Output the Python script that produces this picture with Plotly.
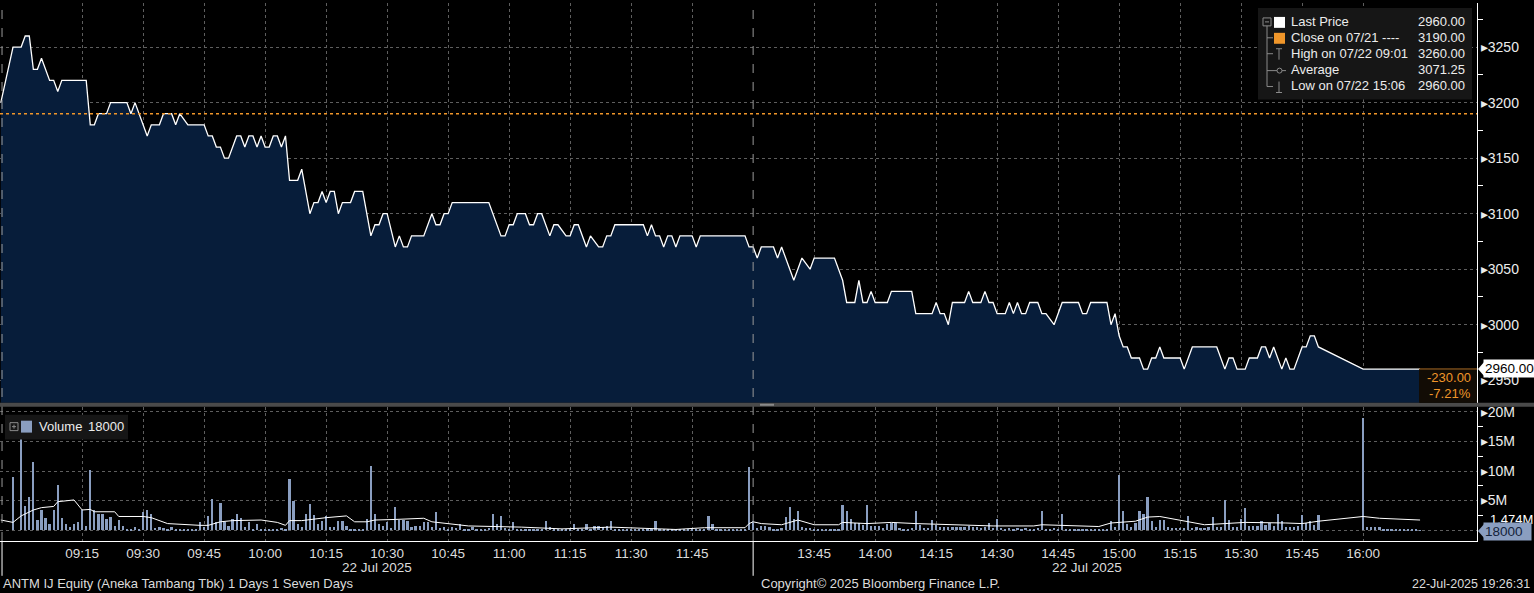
import plotly.graph_objects as go

# ---------------- data ----------------
price_times = [
    "08:55", "08:58", "09:00", "09:01", "09:02", "09:03", "09:04", "09:05", "09:07", "09:08",
    "09:09", "09:10", "09:16", "09:17", "09:18", "09:19", "09:21", "09:22", "09:26", "09:27",
    "09:28", "09:31", "09:32", "09:34", "09:35", "09:37", "09:38", "09:39", "09:41", "09:45",
    "09:46", "09:47", "09:48", "09:49", "09:50", "09:51", "09:53", "09:54", "09:55", "09:56",
    "09:57", "09:58", "09:59", "10:00", "10:01", "10:02", "10:03", "10:04", "10:05", "10:06",
    "10:08", "10:09", "10:11", "10:12", "10:13", "10:14", "10:15", "10:16", "10:17", "10:18",
    "10:19", "10:21", "10:22", "10:24", "10:26", "10:27", "10:28", "10:29", "10:30", "10:32",
    "10:33", "10:34", "10:35", "10:36", "10:39", "10:41", "10:42", "10:43", "10:44", "10:45",
    "10:46", "10:55", "10:58", "10:59", "11:00", "11:01", "11:02", "11:04", "11:05", "11:06",
    "11:07", "11:08", "11:10", "11:11", "11:12", "11:14", "11:15", "11:16", "11:17", "11:19",
    "11:20", "11:22", "11:23", "11:24", "11:25", "11:26", "11:33", "11:34", "11:35", "11:36",
    "11:37", "11:38", "11:39", "11:40", "11:41", "11:42", "11:45", "11:46", "11:47", "11:58",
    "11:59", "12:00",
    "13:31", "13:32", "13:35", "13:36", "13:37", "13:40", "13:42", "13:44", "13:45", "13:50",
    "13:52", "13:53", "13:55", "13:56", "13:57", "13:58", "13:59", "14:00", "14:03", "14:04",
    "14:09", "14:10", "14:14", "14:15", "14:16", "14:17", "14:18", "14:19", "14:22", "14:23",
    "14:24", "14:26", "14:27", "14:28", "14:29", "14:30", "14:32", "14:33", "14:34", "14:35",
    "14:36", "14:37", "14:38", "14:40", "14:41", "14:42", "14:44", "14:46", "14:50", "14:51",
    "14:52", "14:53", "14:57", "14:58", "14:59", "15:00", "15:01", "15:02", "15:03", "15:05",
    "15:06", "15:07", "15:08", "15:09", "15:10", "15:11", "15:15", "15:16", "15:18", "15:24",
    "15:26", "15:27", "15:28", "15:29", "15:31", "15:32", "15:34", "15:35", "15:36", "15:37",
    "15:38", "15:40", "15:41", "15:42", "15:43", "15:45", "15:46", "15:47", "15:48", "15:49",
    "16:00", "16:14",
]
price_values = [
    3200, 3250, 3250, 3260, 3260, 3230, 3230, 3240, 3220, 3220,
    3210, 3220, 3220, 3180, 3180, 3190, 3190, 3200, 3200, 3190,
    3200, 3170, 3180, 3180, 3190, 3190, 3180, 3190, 3180, 3180,
    3170, 3170, 3160, 3160, 3150, 3150, 3170, 3170, 3160, 3170,
    3170, 3160, 3170, 3160, 3160, 3170, 3170, 3160, 3170, 3130,
    3130, 3140, 3100, 3110, 3110, 3120, 3110, 3120, 3120, 3100,
    3110, 3110, 3120, 3120, 3080, 3090, 3090, 3100, 3100, 3070,
    3080, 3070, 3070, 3080, 3080, 3100, 3090, 3090, 3100, 3100,
    3110, 3110, 3080, 3080, 3090, 3090, 3100, 3100, 3090, 3090,
    3100, 3100, 3080, 3090, 3090, 3080, 3080, 3090, 3090, 3070,
    3080, 3070, 3070, 3080, 3080, 3090, 3090, 3080, 3090, 3080,
    3080, 3070, 3080, 3080, 3070, 3080, 3080, 3070, 3080, 3080,
    3070, 3070,
    3060, 3070, 3070, 3060, 3070, 3040, 3060, 3050, 3060, 3060,
    3040, 3020, 3020, 3040, 3020, 3020, 3030, 3020, 3020, 3030,
    3030, 3010, 3010, 3020, 3010, 3010, 3000, 3020, 3020, 3030,
    3020, 3020, 3030, 3020, 3020, 3010, 3010, 3020, 3010, 3020,
    3010, 3010, 3020, 3020, 3010, 3010, 3000, 3020, 3020, 3010,
    3010, 3020, 3020, 3000, 3010, 2990, 2980, 2980, 2970, 2970,
    2960, 2960, 2970, 2970, 2980, 2970, 2970, 2960, 2980, 2980,
    2960, 2970, 2970, 2960, 2960, 2970, 2970, 2980, 2980, 2970,
    2980, 2960, 2970, 2960, 2960, 2980, 2980, 2990, 2990, 2980,
    2960, 2960,
]

# volume in millions of shares, one value per minute
vol_morning_start = "08:58"
vol_morning = [
    9.0, 0.0,
    16.0, 4.2, 5.7, 11.6, 1.8, 3.4, 2.1, 1.1, 3.4, 7.7, 2.1, 1.1, 0.6, 1.0, 1.4,
    3.4, 0.7, 10.2, 3.5, 2.8, 2.8, 2.0, 2.2, 0.7, 1.8, 0.8, 0.3, 0.3, 0.6, 0.3,
    3.1, 3.4, 2.7, 0.4, 0.5, 0.4, 0.3, 0.5, 0.3, 0.3, 0.2, 0.3, 0.2, 0.3, 1.4,
    0.5, 2.4, 5.3, 1.4, 4.6, 1.4, 0.8, 2.0, 2.7, 2.1, 0.5, 1.4, 0.3, 1.0, 0.3,
    0.3, 0.2, 0.3, 0.3, 0.4, 0.3, 8.7, 5.0, 1.0, 0.5, 2.8, 4.5, 2.6, 1.0, 1.6,
    2.4, 0.6, 0.6, 1.5, 1.5, 0.7, 0.3, 0.3, 0.3, 0.2, 2.0, 10.9, 2.8, 1.1, 0.7,
    1.4, 0.4, 4.0, 1.8, 1.8, 1.6, 0.6, 0.7, 0.8, 1.4, 1.4, 0.6, 3.1, 0.4, 0.6,
    0.3, 0.5, 0.4, 1.0, 0.3, 0.3, 0.5, 0.3, 0.3, 0.3, 0.4, 2.7, 1.1, 2.4, 0.4,
    0.3, 1.4, 0.3, 0.2, 0.3, 0.2, 0.3, 0.2, 0.3, 1.5, 0.6, 0.2, 0.1, 0.2, 0.2,
    0.2, 1.0, 0.3, 0.2, 1.0, 0.3, 0.7, 0.7, 0.5, 0.7, 1.6, 0.3, 0.2, 0.2, 0.3,
    0.2, 0.2, 0.1, 0.2, 0.3, 0.2, 1.6, 0.2, 0.2, 0.1, 0.2, 0.1, 0.1, 0.2, 0.2,
    0.2, 0.2, 0.3, 0.3, 2.4, 1.0, 0.2, 0.2, 0.2, 0.2, 0.2, 0.2, 0.2, 0.3, 10.8,
]
vol_afternoon_start = "13:30"
vol_afternoon = [
    1.5, 0.4, 0.8, 0.8, 0.6, 0.3, 0.3, 0.4, 2.2, 4.0, 2.0, 3.3, 0.5, 0.4, 0.4,
    0.3, 0.3, 0.2, 0.3, 0.3, 0.3, 0.3, 4.3, 3.3, 2.0, 1.3, 1.2, 0.9, 4.3, 0.8,
    0.8, 0.8, 0.4, 1.1, 1.2, 1.3, 0.4, 0.3, 0.3, 0.4, 3.3, 0.9, 0.4, 0.4, 1.8,
    0.9, 0.6, 0.6, 0.5, 0.6, 0.6, 0.5, 0.6, 0.8, 0.5, 0.5, 0.4, 0.5, 1.3, 0.4,
    2.0, 0.4, 0.3, 0.4, 0.3, 0.4, 0.3, 0.4, 0.3, 0.3, 0.4, 3.3, 0.3, 0.3, 0.4,
    0.3, 2.8, 0.3, 0.3, 0.2, 0.3, 0.3, 0.2, 0.3, 0.3, 0.2, 0.3, 0.3, 1.5, 0.5,
    9.4, 3.3, 1.1, 0.5, 1.3, 3.3, 2.8, 5.6, 1.5, 0.6, 1.7, 1.7, 0.6, 0.4, 0.4,
    0.4, 0.4, 2.4, 0.4, 0.5, 0.4, 0.4, 0.5, 2.2, 0.6, 0.5, 5.2, 1.7, 0.6, 0.5,
    2.0, 3.8, 0.8, 0.8, 0.8, 1.6, 0.9, 1.2, 0.7, 2.8, 1.5, 0.6, 0.6, 0.6, 0.7,
    2.6, 1.2, 1.6, 0.9, 2.6, 0.0, 0.0, 0.0, 0.0, 0.0, 0.0, 0.0, 0.0, 0.0, 0.0,
    19.0, 0.6, 0.6, 0.6, 0.5, 0.3, 0.2, 0.2, 0.2, 0.1, 0.1, 0.1, 0.1, 0.1, 0.018,
]

vol_avg_times = [
    "08:55", "08:58", "09:00", "09:01", "09:03", "09:05", "09:08", "09:09", "09:12", "09:13",
    "09:15", "09:17", "09:18", "09:23", "09:24", "09:30", "09:32", "09:36", "09:44", "09:46",
    "09:49", "09:52", "09:59", "10:03", "10:05", "10:06", "10:09", "10:11", "10:15", "10:20",
    "10:22", "10:25", "10:27", "10:32", "10:39", "10:41", "10:45", "10:50", "11:03", "11:13",
    "11:25", "11:33", "11:38", "11:41", "11:48", "11:58", "11:59", "12:00",
    "13:32", "13:37", "13:41", "13:45", "13:51", "13:52", "13:58", "14:04", "14:10", "14:23",
    "14:29", "14:39", "14:41", "14:55", "14:58", "15:04", "15:07", "15:10", "15:15", "15:21",
    "15:26", "15:31", "15:41", "15:45", "15:49", "16:00", "16:04", "16:14",
]
vol_avg_values = [
    1.7, 1.3, 2.4, 2.7, 3.4, 3.8, 4.0, 4.8, 5.0, 5.1,
    3.4, 3.5, 3.1, 3.1, 2.3, 2.3, 2.1, 1.1, 0.8, 0.8,
    1.4, 1.6, 1.7, 1.3, 0.8, 1.6, 1.6, 1.8, 2.1, 2.4,
    1.4, 1.4, 1.7, 1.8, 2.0, 1.4, 1.1, 0.7, 0.5, 0.2,
    0.5, 0.3, 0.3, 0.1, 0.4, 0.4, 1.1, 1.4,
    1.1, 0.9, 1.7, 0.9, 0.9, 1.3, 1.1, 1.3, 1.1, 0.9,
    0.7, 0.7, 0.9, 0.6, 1.2, 1.5, 2.2, 2.3, 1.7, 0.9,
    1.1, 1.3, 1.2, 1.1, 1.5, 2.3, 2.0, 1.7,
]

prev_close = 3190
price_ticks = [2950, 3000, 3050, 3100, 3150, 3200, 3250]
price_minor = [2975, 3025, 3075, 3125, 3175, 3225, 3275]
vol_ticks = [5, 10, 15, 20]
vol_tick_text = ["5M", "10M", "15M", "20M"]
vol_minor = [2.5, 7.5, 12.5, 17.5]
time_ticks = ["09:15", "09:30", "09:45", "10:00", "10:15", "10:30", "10:45", "11:00",
              "11:15", "11:30", "11:45", "13:45", "14:00", "14:15", "14:30", "14:45",
              "15:00", "15:15", "15:30", "15:45", "16:00"]

legend_rows = [
    ("Last Price", "2960.00"),
    ("Close on 07/21 ----", "3190.00"),
    ("High on 07/22 09:01", "3260.00"),
    ("Average", "3071.25"),
    ("Low on 07/22 15:06", "2960.00"),
]


# -------------- helpers --------------
def smin(t):
    """trading-session minutes since 09:00, lunch break removed"""
    h, m = map(int, t.split(":"))
    mins = h * 60 + m
    if mins >= 13 * 60 + 30:
        return mins - (13 * 60 + 30) + 180
    return mins - 9 * 60


def minute_series(start, n):
    s0 = smin(start)
    return [s0 + i for i in range(n)]


W, H = 1534, 593
PR, PB = 1477, 541  # plot right / bottom in pixels


def px(xp):
    return xp / PR


def py(yp):
    return (PB - yp) / PB


FONT = "Liberation Sans, Arial, sans-serif"
TXT = "#ececec"
GRID = "#5e5e5e"
FILL = "#071d3a"
ORANGE = "#f0962a"
VOLC = "#8a9ec0"

xs_price = [smin(t) for t in price_times]
xs_vol = minute_series(vol_morning_start, len(vol_morning)) + \
    minute_series(vol_afternoon_start, len(vol_afternoon))
ys_vol = vol_morning + vol_afternoon
xs_avg = [smin(t) for t in vol_avg_times]

fig = go.Figure()
fig.add_trace(go.Scatter(
    x=xs_price, y=price_values, mode="lines", fill="tozeroy",
    fillcolor=FILL, line=dict(color="#ffffff", width=1.3),
    xaxis="x", yaxis="y", hoverinfo="skip", showlegend=False))
fig.add_trace(go.Bar(
    x=xs_vol, y=ys_vol, width=0.55, marker=dict(color=VOLC, line=dict(width=0)),
    xaxis="x2", yaxis="y2", hoverinfo="skip", showlegend=False))
fig.add_trace(go.Scatter(
    x=xs_avg, y=vol_avg_values, mode="lines", line=dict(color="#ffffff", width=1),
    xaxis="x2", yaxis="y2", hoverinfo="skip", showlegend=False))

xr = [-5.2, 358.0]
tickvals = [smin(t) for t in time_ticks]

fig.update_layout(
    width=W, height=H,
    margin=dict(l=0, r=W - PR, t=0, b=H - PB),
    paper_bgcolor="#000000", plot_bgcolor="#000000",
    font=dict(family=FONT, color=TXT, size=13),
    showlegend=False, bargap=0,
    xaxis=dict(domain=[0, 1], anchor="y", range=xr, tickmode="array", tickvals=tickvals,
               showticklabels=False, showgrid=True, gridcolor=GRID, griddash="dot",
               gridwidth=1, zeroline=False, showline=False, ticks=""),
    xaxis2=dict(domain=[0, 1], anchor="y2", range=xr, matches="x", tickmode="array",
                tickvals=tickvals, ticktext=time_ticks, showgrid=True, gridcolor=GRID,
                griddash="dot", zeroline=False, showline=True, linecolor="#ffffff",
                linewidth=1, ticks="", tickfont=dict(family=FONT, size=13.5, color="#dcdcdc")),
    yaxis=dict(domain=[py(402), 1], anchor="x", side="right", range=[2929.7, 3289.7],
               tickmode="array", tickvals=price_ticks,
               ticktext=["\u25b8" + str(v) for v in price_ticks],
               showgrid=True, gridcolor=GRID, griddash="dot", zeroline=False,
               showline=True, linecolor="#ffffff", linewidth=1, ticks="",
               tickfont=dict(family=FONT, size=14, color=TXT),
               minor=dict(tickmode="array", tickvals=price_minor, ticks="outside",
                          ticklen=5, tickcolor="#ffffff", showgrid=False)),
    yaxis2=dict(domain=[0, py(406)], anchor="x2", side="right", range=[-1.85, 20.88],
                tickmode="array", tickvals=[0] + vol_ticks,
                ticktext=[""] + ["\u25b8" + t for t in vol_tick_text],
                showgrid=True, gridcolor=GRID, griddash="dot", zeroline=False,
                showline=True, linecolor="#ffffff", linewidth=1, ticks="",
                tickfont=dict(family=FONT, size=14, color=TXT),
                minor=dict(tickmode="array", tickvals=vol_minor, ticks="outside",
                           ticklen=5, tickcolor="#ffffff", showgrid=False)),
)

shapes = []
# previous close line
shapes.append(dict(type="line", xref="x domain", yref="y", x0=0, x1=1, y0=prev_close,
                   y1=prev_close, line=dict(color=ORANGE, width=1.6, dash="dot")))
# session dividers
for s in [xs_price[0] + 0.3, smin("12:00")]:
    shapes.append(dict(type="line", xref="x", yref="paper", x0=s, x1=s, y0=0, y1=1,
                       line=dict(color="#9a9a9a", width=1, dash="dash")))
    shapes.append(dict(type="line", xref="x", yref="paper", x0=s, x1=s, y0=py(541),
                       y1=py(576), line=dict(color="#ffffff", width=1)))
# panel separator
shapes.append(dict(type="rect", xref="paper", yref="paper", x0=0, x1=W / PR,
                   y0=py(406), y1=py(402), fillcolor="#4a4a4a", line=dict(width=0)))
shapes.append(dict(type="rect", xref="paper", yref="paper", x0=px(760), x1=px(774),
                   y0=py(405), y1=py(403), fillcolor="#8a8a8a", line=dict(width=0)))
# change box
shapes.append(dict(type="rect", xref="paper", yref="paper", x0=px(1419), x1=1,
                   y0=py(402), y1=py(368), fillcolor="#120c05", line=dict(width=0)))
shapes.append(dict(type="line", xref="paper", yref="paper", x0=px(1419), x1=1,
                   y0=py(368), y1=py(368), line=dict(color="#a86a24", width=1)))

# price legend box
shapes.append(dict(type="rect", xref="paper", yref="paper", x0=px(1258), x1=px(1472),
                   y0=py(97), y1=py(5), fillcolor="#161616", line=dict(width=0)))
# tree
TREE = "#8a8a8a"
shapes.append(dict(type="rect", xref="paper", yref="paper", x0=px(1263), x1=px(1271),
                   y0=py(23), y1=py(15), line=dict(color=TREE, width=1)))
shapes.append(dict(type="line", xref="paper", yref="paper", x0=px(1265), x1=px(1269),
                   y0=py(19), y1=py(19), line=dict(color=TREE, width=1)))
shapes.append(dict(type="line", xref="paper", yref="paper", x0=px(1267), x1=px(1267),
                   y0=py(84), y1=py(23), line=dict(color=TREE, width=1)))
for yy in [35, 51, 68, 84]:
    shapes.append(dict(type="line", xref="paper", yref="paper", x0=px(1267), x1=px(1273),
                       y0=py(yy), y1=py(yy), line=dict(color=TREE, width=1)))
shapes.append(dict(type="rect", xref="paper", yref="paper", x0=px(1274), x1=px(1285),
                   y0=py(25), y1=py(14), fillcolor="#ffffff", line=dict(width=0)))
shapes.append(dict(type="rect", xref="paper", yref="paper", x0=px(1274), x1=px(1285),
                   y0=py(41), y1=py(30), fillcolor=ORANGE, line=dict(width=0)))
# high marker
shapes.append(dict(type="line", xref="paper", yref="paper", x0=px(1279), x1=px(1279),
                   y0=py(57), y1=py(46), line=dict(color=TREE, width=1)))
shapes.append(dict(type="line", xref="paper", yref="paper", x0=px(1276), x1=px(1282),
                   y0=py(46), y1=py(46), line=dict(color=TREE, width=1)))
# average marker
shapes.append(dict(type="line", xref="paper", yref="paper", x0=px(1273), x1=px(1286),
                   y0=py(68), y1=py(68), line=dict(color=TREE, width=1)))
shapes.append(dict(type="circle", xref="paper", yref="paper", x0=px(1277), x1=px(1282),
                   y0=py(70.5), y1=py(65.5), fillcolor="#161616", line=dict(color=TREE, width=1)))
# low marker
shapes.append(dict(type="line", xref="paper", yref="paper", x0=px(1279), x1=px(1279),
                   y0=py(90), y1=py(79), line=dict(color=TREE, width=1)))
shapes.append(dict(type="line", xref="paper", yref="paper", x0=px(1276), x1=px(1282),
                   y0=py(90), y1=py(90), line=dict(color=TREE, width=1)))

# volume legend box
shapes.append(dict(type="rect", xref="paper", yref="paper", x0=px(5), x1=px(128),
                   y0=py(439), y1=py(414), fillcolor="#161616", line=dict(width=0)))
shapes.append(dict(type="rect", xref="paper", yref="paper", x0=px(10), x1=px(18),
                   y0=py(430), y1=py(422), line=dict(color=TREE, width=1)))
shapes.append(dict(type="line", xref="paper", yref="paper", x0=px(12), x1=px(16),
                   y0=py(426), y1=py(426), line=dict(color=TREE, width=1)))
shapes.append(dict(type="line", xref="paper", yref="paper", x0=px(14), x1=px(14),
                   y0=py(428), y1=py(424), line=dict(color=TREE, width=1)))
shapes.append(dict(type="rect", xref="paper", yref="paper", x0=px(21), x1=px(32),
                   y0=py(432), y1=py(420), fillcolor=VOLC, line=dict(width=0)))

# right-side value tags (arrow heads)
shapes.append(dict(type="path", xref="paper", yref="paper",
                   path="M %f %f L %f %f L %f %f Z" % (px(1478), py(368), px(1485), py(360),
                                                      px(1485), py(376)),
                   fillcolor="#ffffff", line=dict(width=0)))
shapes.append(dict(type="path", xref="paper", yref="paper",
                   path="M %f %f L %f %f L %f %f Z" % (px(1478), py(531), px(1485), py(523),
                                                      px(1485), py(539)),
                   fillcolor=VOLC, line=dict(width=0)))
fig.update_layout(shapes=shapes)

ann = []


def text(x, y, s, anchor="left", color=TXT, size=13, **kw):
    ann.append(dict(x=px(x), y=py(y), xref="paper", yref="paper", text=s, showarrow=False,
                    xanchor=anchor, yanchor="middle",
                    font=dict(family=FONT, size=size, color=color), **kw))


row_y = [18.5, 34.5, 50.5, 67, 83]
for (lab, val), yy in zip(legend_rows, row_y):
    text(1289, yy, lab, size=13)
    text(1467, yy, val, anchor="right", size=13)

text(37, 425.5, "Volume", size=13)
text(86, 425.5, "18000", size=13)

text(1473, 377, "-230.00", anchor="right", color=ORANGE, size=13)
text(1473, 393, "-7.21%", anchor="right", color=ORANGE, size=13)

text(1483, 368, "2960.00", color="#000000", size=13.5, bgcolor="#ffffff", borderpad=1)
text(1488, 519, "1.474M", color="#ffffff", size=13)
text(1483, 531, "18000  ", color="#14233a", size=13.5, bgcolor=VOLC, borderpad=1)

text(377, 568, "22 Jul 2025", anchor="center", color="#dcdcdc", size=13.5)
text(1087, 568, "22 Jul 2025", anchor="center", color="#dcdcdc", size=13.5)

text(1, 584, "ANTM IJ Equity (Aneka Tambang Tbk) 1 Days 1 Seven Days", color="#dcdcdc", size=13)
text(759, 584, "Copyright\u00a9 2025 Bloomberg Finance L.P.", color="#dcdcdc", size=13)
text(1532, 584, "22-Jul-2025 19:26:31", anchor="right", color="#dcdcdc", size=12.5)

fig.update_layout(annotations=ann)

fig.write_html("out.html", include_plotlyjs=True, config={"displayModeBar": False},
               post_script="document.body.style.margin='0';document.body.style.overflow='hidden';")
